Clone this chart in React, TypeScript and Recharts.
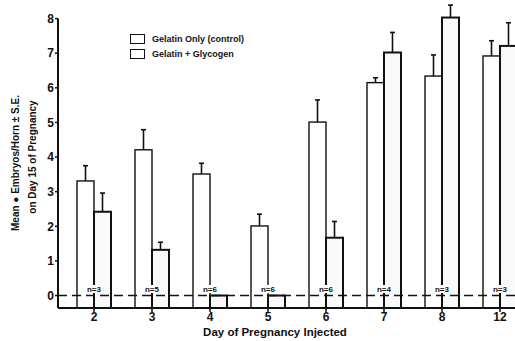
import { BarChart, Bar, XAxis, YAxis, ReferenceLine, LabelList } from 'recharts';

const days = ['2', '3', '4', '5', '6', '7', '8', '12'];
const controlMean = [3.31, 4.21, 3.51, 2.01, 5.01, 6.15, 6.34, 6.92];
const controlSE = [0.44, 0.58, 0.31, 0.34, 0.64, 0.14, 0.61, 0.44];
const glycogenMean = [2.42, 1.32, 0, 0, 1.67, 7.02, 8.03, 7.21];
const glycogenSE = [0.54, 0.22, 0, 0, 0.47, 0.58, 0.36, 0.67];
const nPerDay = [3, 5, 6, 6, 6, 4, 3, 3];
const yTicks = [0, 1, 2, 3, 4, 5, 6, 7, 8];

const Y_MIN = -0.36;
const Y_MAX = 8.45;
const INK = '#111';
const FONT = '"Liberation Sans", Arial, sans-serif';

const data = days.map((day, i) => ({
  day,
  ctl: controlMean[i],
  ctlSE: controlSE[i],
  gly: glycogenMean[i],
  glySE: glycogenSE[i],
  n: `n=${nPerDay[i]}`,
}));

// bar drawn from the axis floor, with an upper-only S.E. whisker
function BarWithError(props: any) {
  const { x, y, width, height, mean, se, fill, strokeWidth } = props;
  const pxPerUnit = height / (mean - Y_MIN);
  const cx = x + width / 2;
  const errTop = y - se * pxPerUnit;
  return (
    <g>
      <rect x={x} y={y} width={width} height={height} fill={fill} stroke={INK} strokeWidth={strokeWidth} />
      {se > 0 && (
        <g stroke={INK} strokeWidth={1.6}>
          <line x1={cx} y1={y} x2={cx} y2={errTop} />
          <line x1={cx - 2.5} y1={errTop} x2={cx + 2.5} y2={errTop} />
        </g>
      )}
    </g>
  );
}

// n label sits at the junction of the pair, just above the dashed zero line
function NLabel(props: any) {
  const { x, y, height, value } = props;
  const base = y + height - 16;
  return (
    <g>
      <rect x={x - 8} y={base - 7} width={16} height={8} fill="#fff" />
      <text x={x} y={base} textAnchor="middle" fontSize={8} fontWeight="bold" fontFamily={FONT} fill={INK}>
        {value}
      </text>
    </g>
  );
}

function YTitle() {
  return (
    <g fontFamily={FONT} fontWeight="bold" fontSize={10} fill={INK}>
      <text x={0} y={0} transform="translate(19,163) rotate(-90)" textAnchor="middle">
        Mean ● Embryos/Horn ± S.E.
      </text>
      <text x={0} y={0} transform="translate(36,157) rotate(-90)" textAnchor="middle">
        on Day 15 of Pregnancy
      </text>
    </g>
  );
}

function XTitle() {
  return (
    <text x={275} y={336} textAnchor="middle" fontFamily={FONT} fontWeight="bold" fontSize={11.5} fill={INK}>
      Day of Pregnancy Injected
    </text>
  );
}

function LegendBox() {
  const row = (label: string, top: number, thick: number) => (
    <div style={{ position: 'absolute', left: 130, top, display: 'flex', alignItems: 'center' }}>
      <div style={{ width: 13, height: 8, border: `${thick}px solid ${INK}`, background: '#fff' }} />
      <span style={{ marginLeft: 7, fontSize: 9, fontWeight: 'bold', fontFamily: FONT, color: INK, whiteSpace: 'nowrap' }}>
        {label}
      </span>
    </div>
  );
  return (
    <>
      {row('Gelatin Only (control)', 34, 1.5)}
      {row('Gelatin + Glycogen', 49, 1.8)}
    </>
  );
}

export default function App() {
  return (
    <div style={{ position: 'fixed', left: 0, top: 0, width: 515, height: 341, overflow: 'hidden', background: '#fff' }}>
      <BarChart
        width={535}
        height={341}
        data={data}
        margin={{ top: 3, right: 6, bottom: 0, left: 0 }}
        barGap={0}
        barSize={17}
      >
        <XAxis
          dataKey="day"
          height={33}
          padding={{ left: 7, right: 0 }}
          axisLine={{ stroke: INK, strokeWidth: 2 }}
          tickLine={{ stroke: INK, strokeWidth: 1.5 }}
          tickSize={4}
          tickMargin={0}
          tick={{ fill: INK, fontSize: 12, fontWeight: 'bold', fontFamily: FONT }}
          label={{ content: XTitle }}
        />
        <XAxis xAxisId="line" type="number" domain={[0, 1]} hide />
        <YAxis
          width={58}
          type="number"
          domain={[Y_MIN, Y_MAX]}
          ticks={yTicks}
          interval={0}
          axisLine={false}
          tickLine={{ stroke: INK, strokeWidth: 1.5 }}
          tickSize={3}
          tickMargin={1}
          tick={{ fill: INK, fontSize: 12, fontWeight: 'bold', fontFamily: FONT }}
          label={{ content: YTitle }}
        />
        <ReferenceLine
          xAxisId="line"
          segment={[{ x: 0, y: 8 }, { x: 0, y: Y_MIN }]}
          stroke={INK}
          strokeWidth={2}
        />
        <Bar
          dataKey={(d: any) => [Y_MIN, d.ctl]}
          isAnimationActive={false}
          shape={(p: any) => (
            <BarWithError {...p} mean={p.payload.ctl} se={p.payload.ctlSE} fill="#fff" strokeWidth={1.4} />
          )}
        />
        <Bar
          dataKey={(d: any) => [Y_MIN, d.gly]}
          isAnimationActive={false}
          shape={(p: any) => (
            <BarWithError {...p} mean={p.payload.gly} se={p.payload.glySE} fill="#f9f9f9" strokeWidth={2} />
          )}
        >
          <LabelList dataKey="n" content={NLabel} />
        </Bar>
        <ReferenceLine y={0} stroke={INK} strokeWidth={1.5} strokeDasharray="9 5" />
      </BarChart>
      <LegendBox />
    </div>
  );
}
